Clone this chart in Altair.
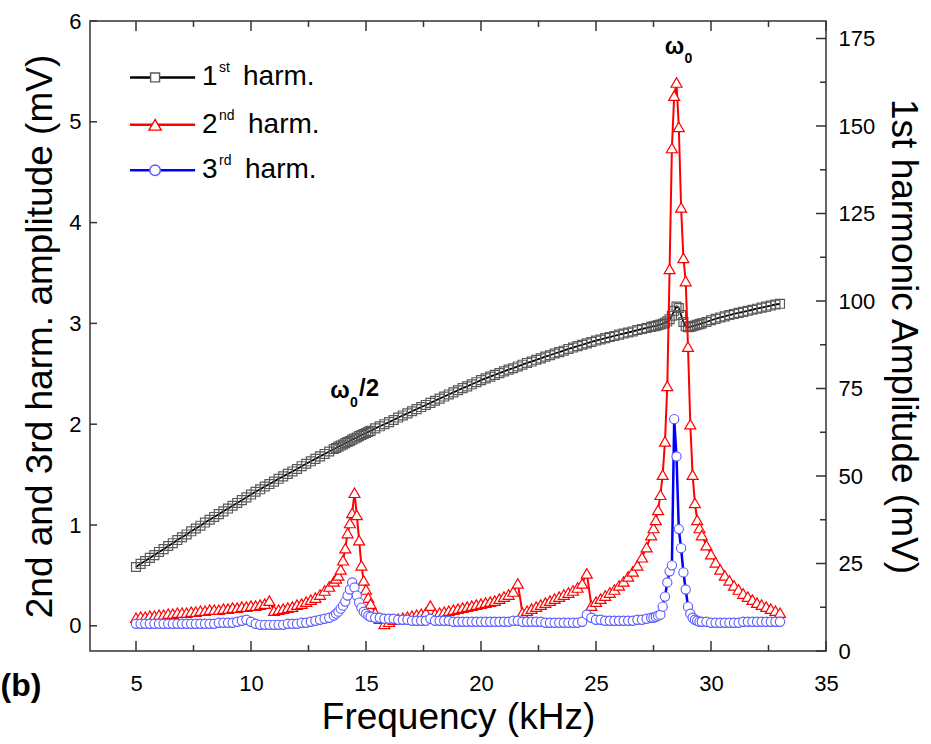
import altair as alt
import pandas as pd

# ---------------- data ----------------
freq = [
    5.0, 5.2, 5.4, 5.6, 5.8, 6.0, 6.2, 6.4, 6.6, 6.8, 7.0, 7.2, 7.4, 7.6, 7.8, 8.0,
    8.2, 8.4, 8.6, 8.8, 9.0, 9.2, 9.4, 9.6, 9.8, 10.0, 10.2, 10.4, 10.6, 10.8, 11.0,
    11.2, 11.4, 11.6, 11.8, 12.0, 12.2, 12.4, 12.6, 12.8, 13.0, 13.2, 13.4, 13.6,
    13.7, 13.8, 13.9, 14.0, 14.1, 14.2, 14.3, 14.4, 14.5, 14.6, 14.7, 14.8, 14.9,
    15.0, 15.1, 15.2,
    15.4, 15.6, 15.8, 16.0, 16.2, 16.4, 16.6, 16.8, 17.0, 17.2, 17.4, 17.6, 17.8,
    18.0, 18.2, 18.4, 18.6, 18.8, 19.0, 19.2, 19.4, 19.6, 19.8, 20.0,
    20.2, 20.4, 20.6, 20.8, 21.0, 21.2, 21.4, 21.6, 21.8, 22.0, 22.2, 22.4, 22.6,
    22.8, 23.0, 23.2, 23.4, 23.6, 23.8, 24.0, 24.2, 24.4, 24.6, 24.8, 25.0,
    25.2, 25.4, 25.6, 25.8, 26.0, 26.2, 26.4, 26.6, 26.8, 27.0, 27.2, 27.4,
    27.5, 27.6, 27.7, 27.8, 27.9, 28.0, 28.1, 28.2, 28.3, 28.4, 28.5, 28.6, 28.7,
    28.8, 28.9, 29.0, 29.1, 29.2, 29.3, 29.4, 29.5,
    29.6, 29.8, 30.0, 30.2, 30.4, 30.6, 30.8, 31.0, 31.2, 31.4, 31.6, 31.8, 32.0,
    32.2, 32.4, 32.6, 32.8, 33.0,
]

# 1st harmonic amplitude (mV, right axis)
harm1 = [
    24.0, 24.9, 25.7, 26.6, 27.4, 28.3, 29.1, 30.0, 30.8, 31.7, 32.5, 33.3, 34.2,
    35.0, 35.8, 36.7, 37.5, 38.3, 39.1, 39.9, 40.7, 41.5, 42.3, 43.1, 43.9, 44.7,
    45.5, 46.2, 47.0, 47.7, 48.4, 49.2, 49.9, 50.6, 51.3, 52.0, 52.8, 53.5, 54.2,
    54.9, 55.6, 56.3, 57.0, 57.7,
    58.0, 58.4, 58.7, 59.0, 59.4, 59.7, 60.0, 60.4, 60.7, 61.0, 61.4, 61.7, 62.0,
    62.3, 62.6, 62.9,
    63.6, 64.2, 64.8, 65.4, 66.0, 66.7, 67.3, 67.9, 68.5, 69.1, 69.7, 70.3, 70.9,
    71.5, 72.1, 72.7, 73.3, 73.9, 74.5, 75.1, 75.6, 76.2, 76.8, 77.4,
    77.9, 78.4, 78.9, 79.4, 79.9, 80.4, 80.8, 81.3, 81.8, 82.3, 82.7, 83.2, 83.6,
    84.1, 84.5, 85.0, 85.4, 85.8, 86.3, 86.7, 87.1, 87.5, 87.9, 88.3, 88.7,
    89.0, 89.4, 89.7, 90.0, 90.4, 90.7, 91.0, 91.3, 91.7, 92.0, 92.3, 92.6,
    92.8, 92.9, 93.1, 93.3, 93.5, 93.8, 94.2, 94.8, 95.8, 97.2, 98.4, 98.0, 96.0,
    94.0, 92.8, 92.5, 92.6, 92.8, 93.0, 93.2, 93.4,
    93.6, 94.0, 94.5, 94.9, 95.3, 95.6, 96.0, 96.3, 96.6, 96.9, 97.2, 97.5, 97.8,
    98.1, 98.4, 98.7, 99.0, 99.2,
]

# 2nd harmonic amplitude (mV, left axis)
harm2 = [
    0.08, 0.09, 0.09, 0.10, 0.10, 0.11, 0.11, 0.12, 0.12, 0.13, 0.13, 0.13, 0.14,
    0.14, 0.15, 0.15, 0.16, 0.16, 0.16, 0.17, 0.17, 0.18, 0.18, 0.19, 0.19, 0.20,
    0.20, 0.21, 0.22, 0.25, 0.15, 0.16, 0.17, 0.18, 0.19, 0.21, 0.22, 0.24, 0.26,
    0.28, 0.31, 0.35, 0.39, 0.44,
    0.47, 0.50, 0.56, 0.65, 0.77, 0.92, 1.02, 1.12, 1.32, 1.10, 0.85, 0.60, 0.45,
    0.36, 0.28, 0.22,
    0.13, 0.07, 0.02, 0.04, 0.06, 0.07, 0.08, 0.09, 0.10, 0.11, 0.12, 0.13, 0.20,
    0.12, 0.13, 0.14, 0.15, 0.16, 0.17, 0.18, 0.19, 0.20, 0.21, 0.22,
    0.23, 0.24, 0.25, 0.27, 0.29, 0.31, 0.34, 0.42, 0.13, 0.15, 0.17, 0.19, 0.21,
    0.23, 0.25, 0.27, 0.29, 0.31, 0.33, 0.35, 0.38, 0.42, 0.52, 0.20, 0.24,
    0.27, 0.30, 0.33, 0.36, 0.40, 0.44, 0.49, 0.54, 0.60, 0.68, 0.78, 0.90,
    0.97, 1.05, 1.15, 1.30, 1.50, 1.83, 2.38, 3.54, 4.74, 5.26, 5.39, 4.95, 4.15,
    3.65, 3.42, 2.77, 2.00, 1.50, 1.22, 1.05, 0.97,
    0.90, 0.80, 0.71, 0.63, 0.56, 0.50, 0.45, 0.40, 0.36, 0.32, 0.29, 0.26, 0.23,
    0.21, 0.19, 0.17, 0.15, 0.13,
]

# 3rd harmonic amplitude (mV, left axis)
harm3 = [
    0.02, 0.02, 0.02, 0.02, 0.02, 0.02, 0.02, 0.02, 0.02, 0.02, 0.02, 0.02, 0.02,
    0.02, 0.02, 0.02, 0.02, 0.02, 0.03, 0.03, 0.03, 0.03, 0.04, 0.05, 0.06, 0.04,
    0.02, 0.01, 0.01, 0.01, 0.01, 0.01, 0.01, 0.02, 0.02, 0.02, 0.03, 0.03, 0.04,
    0.05, 0.06, 0.07, 0.08, 0.10,
    0.12, 0.14, 0.17, 0.20, 0.24, 0.30, 0.36, 0.43, 0.38, 0.30, 0.23, 0.18, 0.14,
    0.12, 0.10, 0.09,
    0.08, 0.08, 0.07, 0.07, 0.07, 0.06, 0.06, 0.06, 0.05, 0.05, 0.05, 0.05, 0.07,
    0.05, 0.05, 0.05, 0.05, 0.04, 0.04, 0.04, 0.04, 0.04, 0.04, 0.04,
    0.04, 0.04, 0.04, 0.04, 0.04, 0.04, 0.05, 0.05, 0.04, 0.04, 0.04, 0.04, 0.04,
    0.03, 0.03, 0.03, 0.03, 0.03, 0.03, 0.03, 0.03, 0.04, 0.11, 0.08, 0.06,
    0.06, 0.05, 0.05, 0.05, 0.05, 0.05, 0.05, 0.05, 0.06, 0.06, 0.07, 0.08,
    0.08, 0.09, 0.10, 0.11, 0.19, 0.29, 0.43, 0.54, 0.60, 2.05, 1.68, 0.96, 0.77,
    0.53, 0.36, 0.19, 0.12, 0.08, 0.06, 0.05, 0.04,
    0.04, 0.04, 0.03, 0.03, 0.03, 0.03, 0.03, 0.03, 0.03, 0.04, 0.04, 0.04, 0.04,
    0.04, 0.04, 0.04, 0.04, 0.04,
]

x_major = [5, 10, 15, 20, 25, 30, 35]
x_minor = [7.5, 12.5, 17.5, 22.5, 27.5, 32.5]
left_major = [0, 1, 2, 3, 4, 5, 6]
right_major = [0, 25, 50, 75, 100, 125, 150, 175]
right_minor = [12.5, 37.5, 62.5, 87.5, 112.5, 137.5, 162.5]

legend_num = ["1", "2", "3"]
legend_sup = ["st", "nd", "rd"]
legend_word = ["harm.", "harm.", "harm."]
legend_y = [5.44, 4.97, 4.52]          # left-axis units
legend_x0, legend_x1, legend_xm, legend_xt = 4.74, 7.57, 5.83, 7.87   # kHz

assert len(freq) == len(harm1) == len(harm2) == len(harm3)

# ---------------- styling ----------------
FONT = "Liberation Sans"
W, H = 736, 630
RED, BLUE, BLUEPT, GREY = "#ff0000", "#0000ff", "#5a5aff", "#5a5a5a"
FRAME = "#333333"
TITLE_SIZE = 37

xs = alt.Scale(domain=[3, 35], nice=False, zero=False)
yl = alt.Scale(domain=[-0.25, 6], nice=False, zero=False)
yr = alt.Scale(domain=[0, 180], nice=False, zero=False)

x_axis = alt.Axis(title="Frequency (kHz)", values=x_major, format="d", grid=False,
                  domain=False, ticks=False, tickSize=0, labelFont=FONT,
                  labelFontSize=22, labelColor="black", labelPadding=22,
                  labelFlush=False, titleFont=FONT, titleFontSize=TITLE_SIZE,
                  titleFontWeight="normal", titleColor="black", titlePadding=5)
yl_axis = alt.Axis(orient="left", title="2nd and 3rd harm. amplitude (mV)",
                   values=left_major, format="d", grid=False, domain=False,
                   ticks=False, tickSize=0, labelFont=FONT, labelFontSize=22,
                   labelColor="black", labelPadding=9, labelFlush=False,
                   titleFont=FONT, titleFontSize=TITLE_SIZE, titleFontWeight="normal",
                   titleColor="black", titlePadding=9)
yr_axis = alt.Axis(orient="right", title="1st harmonic Amplitude (mV)",
                   values=right_major, format="d", grid=False, domain=False,
                   ticks=False, tickSize=0, labelFont=FONT, labelFontSize=22,
                   labelColor="black", labelPadding=12, labelFlush=False,
                   titleFont=FONT, titleFontSize=TITLE_SIZE, titleFontWeight="normal",
                   titleColor="black", titlePadding=9)


def X(f):
    return alt.X(f"{f}:Q", scale=xs, axis=x_axis)


def YL(f):
    return alt.Y(f"{f}:Q", scale=yl, axis=yl_axis)


def YR(f):
    return alt.Y(f"{f}:Q", scale=yr, axis=yr_axis)


df = pd.DataFrame({"freq": freq, "h1": harm1, "h2": harm2, "h3": harm3})

# ---------- right-axis group (1st harmonic) ----------
black_line = alt.Chart(df).mark_line(color="black", strokeWidth=1.8).encode(
    x=X("freq"), y=YR("h1"))
black_pts = alt.Chart(df).mark_point(
    shape="square", size=80, filled=False, stroke=GREY,
    strokeWidth=1.2, opacity=1).encode(x=X("freq"), y=YR("h1"))
rt_major = alt.Chart(pd.DataFrame({"v": right_major})).mark_rule(
    color=FRAME, strokeWidth=1.5).encode(x=alt.value(W), x2=alt.value(W - 10), y=YR("v"))
rt_minor = alt.Chart(pd.DataFrame({"v": right_minor})).mark_rule(
    color=FRAME, strokeWidth=1.5).encode(x=alt.value(W), x2=alt.value(W - 6), y=YR("v"))
right_group = alt.layer(black_line, black_pts, rt_major, rt_minor)

# ---------- left-axis group (2nd, 3rd harmonic) ----------
red_line = alt.Chart(df).mark_line(color=RED, strokeWidth=2).encode(x=X("freq"), y=YL("h2"))
red_pts = alt.Chart(df).mark_point(
    shape="triangle-up", size=120, filled=True, fill="white", stroke=RED,
    strokeWidth=1.2, opacity=1).encode(x=X("freq"), y=YL("h2"))
blue_line = alt.Chart(df).mark_line(color=BLUE, strokeWidth=2.5).encode(x=X("freq"), y=YL("h3"))
blue_pts = alt.Chart(df).mark_point(
    shape="circle", size=85, filled=True, fill="white", stroke=BLUEPT,
    strokeWidth=1.1, opacity=1).encode(x=X("freq"), y=YL("h3"))

lt = alt.Chart(pd.DataFrame({"v": left_major})).mark_rule(
    color=FRAME, strokeWidth=1.5).encode(x=alt.value(0), x2=alt.value(7), y=YL("v"))
xb_major = alt.Chart(pd.DataFrame({"v": x_major})).mark_rule(
    color=FRAME, strokeWidth=1.5).encode(x=X("v"), y=alt.value(H), y2=alt.value(H - 10))
xb_minor = alt.Chart(pd.DataFrame({"v": x_minor})).mark_rule(
    color=FRAME, strokeWidth=1.5).encode(x=X("v"), y=alt.value(H), y2=alt.value(H - 6))
xt_major = alt.Chart(pd.DataFrame({"v": x_major})).mark_rule(
    color=FRAME, strokeWidth=1.5).encode(x=X("v"), y=alt.value(0), y2=alt.value(10))
xt_minor = alt.Chart(pd.DataFrame({"v": x_minor})).mark_rule(
    color=FRAME, strokeWidth=1.5).encode(x=X("v"), y=alt.value(0), y2=alt.value(6))

# legend
leg_colors = ["black", RED, BLUE]
leg_strokes = [GREY, RED, BLUEPT]
leg_shapes = ["square", "triangle-up", "circle"]
leg_sizes = [80, 150, 110]
leg_word_dx = [41, 46, 43]
legend_layers = []
for i in range(3):
    ld = pd.DataFrame({"x0": [legend_x0], "x1": [legend_x1], "xm": [legend_xm],
                       "xt": [legend_xt], "y": [legend_y[i]], "num": [legend_num[i]],
                       "sup": [legend_sup[i]], "word": [legend_word[i]]})
    base = alt.Chart(ld)
    legend_layers += [
        base.mark_rule(color=leg_colors[i], strokeWidth=2.5).encode(
            x=X("x0"), x2="x1", y=YL("y")),
        base.mark_point(shape=leg_shapes[i], size=leg_sizes[i], filled=True, fill="white",
                        stroke=leg_strokes[i], strokeWidth=1.4, opacity=1).encode(
            x=X("xm"), y=YL("y")),
        base.mark_text(font=FONT, fontSize=28, align="left", baseline="middle",
                       color="black").encode(x=X("xt"), y=YL("y"), text="num:N"),
        base.mark_text(font=FONT, fontSize=14, align="left", baseline="middle",
                       color="black", dx=17, dy=-9).encode(x=X("xt"), y=YL("y"), text="sup:N"),
        base.mark_text(font=FONT, fontSize=28, align="left", baseline="middle",
                       color="black", dx=leg_word_dx[i]).encode(x=X("xt"), y=YL("y"), text="word:N"),
    ]

# annotations
ann = pd.DataFrame({"x": [28.41, 13.87], "y": [5.74, 2.33]})
ann_w = alt.Chart(ann).mark_text(font=FONT, fontSize=23, fontWeight="bold", align="center",
                                 baseline="middle", color="black", text="ω").encode(
    x=X("x"), y=YL("y"))
ann_0 = alt.Chart(ann).mark_text(font=FONT, fontSize=14, fontWeight="bold", align="left",
                                 baseline="middle", color="black", text="0", dx=10, dy=12).encode(
    x=X("x"), y=YL("y"))
ann_half = alt.Chart(ann.iloc[[1]]).mark_text(
    font=FONT, fontSize=24, fontWeight="bold", align="left", baseline="middle",
    color="black", text="/2", dx=19, dy=-2).encode(x=X("x"), y=YL("y"))

panel = alt.Chart(pd.DataFrame({"x": [0.0], "y": [-0.6], "t": ["(b)"]})).mark_text(
    font=FONT, fontSize=32, fontWeight="bold", align="center", baseline="middle",
    color="black").encode(x=X("x"), y=YL("y"), text="t:N")

left_group = alt.layer(red_line, red_pts, blue_line, blue_pts, lt,
                       xb_major, xb_minor, xt_major, xt_minor,
                       *legend_layers, ann_w, ann_0, ann_half, panel)

chart = alt.layer(right_group, left_group).resolve_scale(y="independent").properties(
    width=W, height=H, background="white",
    padding={"left": 90, "top": 21, "right": 105, "bottom": 93},
    autosize=alt.AutoSizeParams(type="none"),
).configure_view(stroke=FRAME, strokeWidth=1.5)

chart.save("out.html", embed_options={"renderer": "svg", "actions": False})
